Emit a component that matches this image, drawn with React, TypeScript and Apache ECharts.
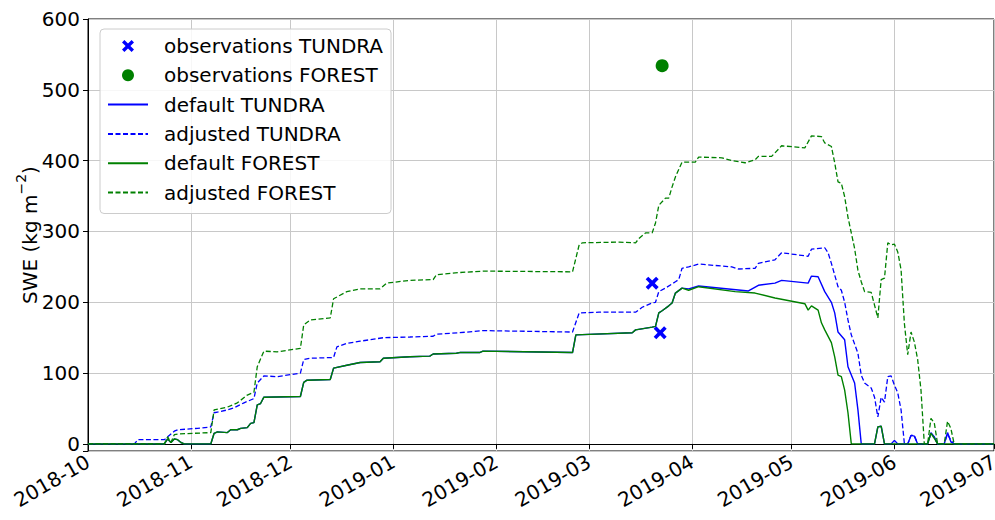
import React, { useEffect, useRef } from "react";
import * as echarts from "echarts";

type Pt = [string, number];

const legendNames = [
  "observations TUNDRA",
  "observations FOREST",
  "default TUNDRA",
  "adjusted TUNDRA",
  "default FOREST",
  "adjusted FOREST",
];

const yTicks = [0, 100, 200, 300, 400, 500, 600];

const obsTundra: Pt[] = [
  ["2019-03-20", 227],
  ["2019-03-22T10:00:00", 157],
];
const obsForest: Pt[] = [["2019-03-23", 534]];

const defaultCommon: Pt[] = [
  ["2018-10-01", 0], ["2018-10-24", 0], ["2018-10-25", 7], ["2018-10-26", 2], ["2018-10-27", 7],
  ["2018-10-28", 6], ["2018-10-29", 2], ["2018-10-30", 0], ["2018-11-07", 0], ["2018-11-08", 15],
  ["2018-11-09", 17], ["2018-11-12", 16], ["2018-11-13", 20], ["2018-11-15", 20], ["2018-11-16", 22],
  ["2018-11-18", 23], ["2018-11-19", 29], ["2018-11-20", 30], ["2018-11-21", 55], ["2018-11-22", 57],
  ["2018-11-23", 66], ["2018-12-04", 67], ["2018-12-05", 87], ["2018-12-06", 90], ["2018-12-13", 91],
  ["2018-12-14", 107], ["2018-12-18", 111], ["2018-12-22", 115], ["2018-12-28", 116], ["2018-12-29", 121],
  ["2019-01-06", 123], ["2019-01-12", 124], ["2019-01-13", 127], ["2019-01-20", 128], ["2019-01-21", 129],
  ["2019-01-27", 129], ["2019-01-28", 131], ["2019-02-24", 129], ["2019-02-25", 154], ["2019-03-14", 157],
  ["2019-03-15", 161], ["2019-03-20", 165], ["2019-03-21", 166], ["2019-03-22", 185], ["2019-03-23", 188],
  ["2019-03-25", 195], ["2019-03-26", 199], ["2019-03-27", 213], ["2019-03-29", 220],
];

const defaultTundraTail: Pt[] = [
  ["2019-03-31", 219], ["2019-04-03", 223], ["2019-04-18", 216], ["2019-04-21", 224], ["2019-04-26", 227],
  ["2019-04-28", 231], ["2019-05-06", 227], ["2019-05-07", 237], ["2019-05-09", 236], ["2019-05-11", 215],
  ["2019-05-13", 200], ["2019-05-14", 185], ["2019-05-15", 158], ["2019-05-17", 147], ["2019-05-18", 109],
  ["2019-05-20", 86], ["2019-05-21", 48], ["2019-05-22", 0], ["2019-05-26", 0], ["2019-05-27", 24],
  ["2019-05-28", 25], ["2019-05-29", 0], ["2019-05-31", 0], ["2019-06-01", 5], ["2019-06-02", 0],
  ["2019-06-05", 0], ["2019-06-06", 12], ["2019-06-07", 11], ["2019-06-08", 0], ["2019-06-11", 0],
  ["2019-06-12", 16], ["2019-06-13", 10], ["2019-06-14", 0], ["2019-06-16", 0], ["2019-06-17", 16],
  ["2019-06-18", 3], ["2019-06-19", 0], ["2019-07-01", 0],
];

const defaultForestTail: Pt[] = [
  ["2019-03-31", 217], ["2019-04-03", 222], ["2019-04-14", 215], ["2019-04-20", 213], ["2019-04-26", 206],
  ["2019-05-05", 198], ["2019-05-06", 189], ["2019-05-07", 195], ["2019-05-09", 189], ["2019-05-10", 171],
  ["2019-05-11", 161], ["2019-05-13", 143], ["2019-05-14", 123], ["2019-05-15", 97], ["2019-05-16", 95],
  ["2019-05-17", 76], ["2019-05-18", 44], ["2019-05-19", 0], ["2019-05-26", 0], ["2019-05-27", 24],
  ["2019-05-28", 25], ["2019-05-29", 0], ["2019-06-11", 0], ["2019-06-12", 15], ["2019-06-13", 8],
  ["2019-06-14", 0], ["2019-07-01", 0],
];

const adjustedTundra: Pt[] = [
  ["2018-10-01", 0], ["2018-10-15", 0], ["2018-10-16", 6], ["2018-10-24", 6], ["2018-10-25", 10],
  ["2018-10-26", 14], ["2018-10-27", 18], ["2018-10-28", 20], ["2018-11-03", 22], ["2018-11-07", 24],
  ["2018-11-08", 44], ["2018-11-09", 45], ["2018-11-12", 48], ["2018-11-14", 51], ["2018-11-17", 58],
  ["2018-11-19", 62], ["2018-11-20", 64], ["2018-11-21", 86], ["2018-11-23", 96], ["2018-11-27", 95],
  ["2018-12-04", 100], ["2018-12-05", 119], ["2018-12-07", 121], ["2018-12-14", 122], ["2018-12-15", 137],
  ["2018-12-18", 142], ["2018-12-22", 145], ["2018-12-29", 150], ["2019-01-06", 151], ["2019-01-13", 152],
  ["2019-01-14", 155], ["2019-01-21", 157], ["2019-01-28", 160], ["2019-02-24", 158], ["2019-02-26", 185],
  ["2019-03-04", 186], ["2019-03-15", 186], ["2019-03-17", 193], ["2019-03-20", 199], ["2019-03-21", 200],
  ["2019-03-22", 215], ["2019-03-24", 220], ["2019-03-27", 229], ["2019-03-28", 232], ["2019-03-29", 248],
  ["2019-03-31", 250], ["2019-04-03", 254], ["2019-04-13", 250], ["2019-04-15", 247], ["2019-04-20", 248],
  ["2019-04-21", 255], ["2019-04-26", 260], ["2019-04-28", 270], ["2019-05-06", 265], ["2019-05-07", 275],
  ["2019-05-11", 277], ["2019-05-12", 270], ["2019-05-13", 255], ["2019-05-15", 222], ["2019-05-16", 217],
  ["2019-05-17", 200], ["2019-05-18", 175], ["2019-05-19", 154], ["2019-05-21", 128], ["2019-05-22", 97],
  ["2019-05-23", 86], ["2019-05-25", 79], ["2019-05-26", 66], ["2019-05-27", 38], ["2019-05-28", 66],
  ["2019-05-29", 59], ["2019-05-30", 95], ["2019-05-31", 96], ["2019-06-01", 83], ["2019-06-02", 72],
  ["2019-06-03", 48], ["2019-06-04", 0], ["2019-06-05", 0], ["2019-06-06", 12], ["2019-06-07", 12],
  ["2019-06-08", 0], ["2019-06-11", 0], ["2019-06-12", 15], ["2019-06-13", 10], ["2019-06-14", 0],
  ["2019-06-16", 0], ["2019-06-17", 14], ["2019-06-18", 5], ["2019-06-19", 0], ["2019-07-01", 0],
];

const adjustedForest: Pt[] = [
  ["2018-10-01", 0], ["2018-10-24", 0], ["2018-10-25", 10], ["2018-10-26", 2], ["2018-10-27", 13],
  ["2018-10-28", 14], ["2018-11-07", 16], ["2018-11-08", 48], ["2018-11-12", 52], ["2018-11-15", 58],
  ["2018-11-18", 69], ["2018-11-20", 73], ["2018-11-21", 109], ["2018-11-23", 131], ["2018-11-27", 130],
  ["2018-12-04", 135], ["2018-12-05", 168], ["2018-12-07", 175], ["2018-12-13", 178], ["2018-12-14", 205],
  ["2018-12-18", 215], ["2018-12-22", 219], ["2018-12-28", 219], ["2018-12-30", 227], ["2019-01-06", 231],
  ["2019-01-13", 232], ["2019-01-14", 239], ["2019-01-21", 242], ["2019-01-28", 244], ["2019-02-24", 243],
  ["2019-02-26", 281], ["2019-02-27", 284], ["2019-03-10", 285], ["2019-03-15", 284], ["2019-03-16", 290],
  ["2019-03-18", 298], ["2019-03-20", 298], ["2019-03-21", 312], ["2019-03-22", 337], ["2019-03-24", 347],
  ["2019-03-25", 347], ["2019-03-26", 363], ["2019-03-27", 377], ["2019-03-29", 398], ["2019-04-02", 398],
  ["2019-04-03", 405], ["2019-04-10", 404], ["2019-04-13", 400], ["2019-04-17", 397], ["2019-04-20", 401],
  ["2019-04-21", 406], ["2019-04-25", 406], ["2019-04-28", 421], ["2019-05-05", 418], ["2019-05-07", 435],
  ["2019-05-10", 434], ["2019-05-11", 425], ["2019-05-13", 420], ["2019-05-14", 397], ["2019-05-15", 370],
  ["2019-05-16", 368], ["2019-05-17", 349], ["2019-05-18", 320], ["2019-05-19", 298], ["2019-05-20", 276],
  ["2019-05-21", 245], ["2019-05-22", 229], ["2019-05-23", 215], ["2019-05-25", 214], ["2019-05-27", 178],
  ["2019-05-28", 232], ["2019-05-29", 234], ["2019-05-30", 284], ["2019-05-31", 281], ["2019-06-01", 282],
  ["2019-06-02", 271], ["2019-06-03", 246], ["2019-06-04", 170], ["2019-06-05", 126], ["2019-06-06", 158],
  ["2019-06-07", 144], ["2019-06-08", 119], ["2019-06-09", 76], ["2019-06-10", 0], ["2019-06-11", 0],
  ["2019-06-12", 36], ["2019-06-13", 30], ["2019-06-14", 0], ["2019-06-16", 0], ["2019-06-17", 32],
  ["2019-06-18", 22], ["2019-06-19", 0], ["2019-07-01", 0],
];

const BLUE = "#0000ff";
const GREEN = "#008000";
const FONT = "DejaVu Sans";
const X_SYMBOL =
  "path://M0,2 L2,0 L5,3 L8,0 L10,2 L7,5 L10,8 L8,10 L5,7 L2,10 L0,8 L3,5 Z";

export default function App() {
  const ref = useRef<HTMLDivElement>(null);
  useEffect(() => {
    document.body.style.margin = "0";
    if (!ref.current) return;
    const chart = echarts.init(ref.current, null, { renderer: "svg" });
    const solid = (c: string) => ({ color: c, width: 1.4, type: "solid" as const });
    const dashed = (c: string) => ({ color: c, width: 1.3, type: [5, 2.5] as any });
    const legendData = legendNames.map((n, i) =>
      i < 2 ? { name: n } : { name: n, itemStyle: { opacity: 0, color: "transparent", borderWidth: 0 } }
    );
    chart.setOption({
      animation: false,
      backgroundColor: "#ffffff",
      textStyle: { fontFamily: FONT },
      grid: {
        left: 88,
        right: 1,
        top: 19,
        bottom: 69,
        show: true,
        borderColor: "#000000",
        borderWidth: 1,
        containLabel: false,
        outerBoundsMode: "none",
      },
      legend: {
        data: legendData,
        orient: "vertical",
        left: 100,
        top: 29,
        padding: [7, 8, 11, 7],
        itemWidth: 40,
        itemHeight: 12,
        itemGap: 9.3,
        backgroundColor: "rgba(255,255,255,0.85)",
        borderColor: "#cccccc",
        borderWidth: 1,
        borderRadius: 4,
        textStyle: { fontSize: 20, color: "#000", fontFamily: FONT, padding: [0, 0, 0, 11] },
      },
      xAxis: {
        type: "time",
        min: "2018-10-01",
        max: "2019-07-01",
        minInterval: 28 * 86400000,
        maxInterval: 31 * 86400000,
        axisLine: { show: true, lineStyle: { color: "#000", width: 1 } },
        axisTick: { show: true, length: 5, lineStyle: { color: "#000" } },
        splitLine: { show: true, lineStyle: { color: "#c8c8c8", width: 1 } },
        axisLabel: {
          rotate: 30,
          margin: 9,
          fontSize: 20,
          color: "#000",
          fontFamily: FONT,
          showMinLabel: true,
          showMaxLabel: true,
          hideOverlap: false,
          formatter: (v: number) => {
            const d = new Date(v);
            return d.getFullYear() + "-" + String(d.getMonth() + 1).padStart(2, "0");
          },
        },
      },
      yAxis: {
        type: "value",
        min: -10,
        max: 600,
        splitNumber: 6,
        name: "{n|SWE (kg m}{s|−2}{n|)}",
        nameLocation: "middle",
        nameGap: 48,
        nameMoveOverlap: false,
        nameTextStyle: {
          fontSize: 20,
          color: "#000",
          fontFamily: FONT,
          rich: {
            n: { fontSize: 20, fontFamily: FONT, color: "#000", verticalAlign: "bottom", lineHeight: 26 },
            s: { fontSize: 14, fontFamily: FONT, color: "#000", verticalAlign: "top", lineHeight: 26 },
          },
        },
        axisLine: { show: true, lineStyle: { color: "#000", width: 1 } },
        axisTick: { show: true, length: 5, lineStyle: { color: "#000" } },
        splitLine: { show: true, lineStyle: { color: "#c8c8c8", width: 1 } },
        axisLabel: {
          fontSize: 20,
          color: "#000",
          margin: 8,
          fontFamily: FONT,
          formatter: (v: number) => (yTicks.includes(v) ? String(v) : ""),
        },
      },
      series: [
        {
          name: legendNames[0],
          type: "scatter",
          data: obsTundra,
          symbol: X_SYMBOL,
          symbolSize: 13,
          itemStyle: { color: BLUE, opacity: 1 },
          z: 5,
        },
        {
          name: legendNames[1],
          type: "scatter",
          data: obsForest,
          symbol: "circle",
          symbolSize: 13,
          itemStyle: { color: GREEN, opacity: 1 },
          z: 5,
        },
        {
          name: legendNames[2],
          type: "line",
          data: [...defaultCommon, ...defaultTundraTail],
          symbol: "none",
          showSymbol: false,
          itemStyle: { color: BLUE },
          lineStyle: solid(BLUE),
          z: 2,
        },
        {
          name: legendNames[3],
          type: "line",
          data: adjustedTundra,
          symbol: "none",
          showSymbol: false,
          itemStyle: { color: BLUE },
          lineStyle: dashed(BLUE),
          z: 2,
        },
        {
          name: legendNames[4],
          type: "line",
          data: [...defaultCommon, ...defaultForestTail],
          symbol: "none",
          showSymbol: false,
          itemStyle: { color: GREEN },
          lineStyle: solid(GREEN),
          z: 3,
        },
        {
          name: legendNames[5],
          type: "line",
          data: adjustedForest,
          symbol: "none",
          showSymbol: false,
          itemStyle: { color: GREEN },
          lineStyle: dashed(GREEN),
          z: 3,
        },
      ],
    });
    return () => chart.dispose();
  }, []);
  return <div ref={ref} style={{ width: 995, height: 520 }} />;
}
